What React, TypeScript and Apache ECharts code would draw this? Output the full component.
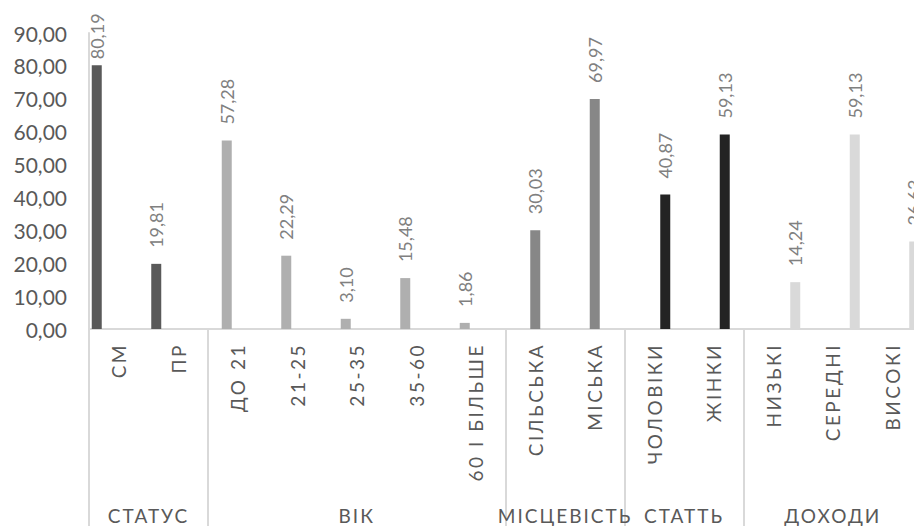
import React, { useEffect, useRef } from "react";
import * as echarts from "echarts";

const categories = ["СМ", "ПР", "ДО 21", "21-25", "25-35", "35-60", "60 І БІЛЬШЕ", "СІЛЬСЬКА", "МІСЬКА", "ЧОЛОВІКИ", "ЖІНКИ", "НИЗЬКІ", "СЕРЕДНІ", "ВИСОКІ"];
const groupNames = ["СТАТУС", "ВІК", "МІСЦЕВІСТЬ", "СТАТТЬ", "ДОХОДИ"];
const groupSizes = [2, 5, 2, 2, 3];
const statusValues = [80.19, 19.81];
const ageValues = [57.28, 22.29, 3.1, 15.48, 1.86];
const localityValues = [30.03, 69.97];
const sexValues = [40.87, 59.13];
const incomeValues = [14.24, 59.13, 26.63];
const groupValues = [statusValues, ageValues, localityValues, sexValues, incomeValues];
const groupColors = ["#595959", "#afafaf", "#878787", "#232323", "#d9d9d9"];
const yTicks = [0, 10, 20, 30, 40, 50, 60, 70, 80, 90];

const fmt = (v: number) => v.toFixed(2).replace(".", ",");
const FONT = "Lato";

export default function App() {
  const ref = useRef<HTMLDivElement>(null);
  useEffect(() => {
    if (!ref.current) return;
    const el = ref.current;
    const chart = echarts.init(el, null, { renderer: "svg" });

    const starts: number[] = [];
    let acc = 0;
    groupSizes.forEach((s) => { starts.push(acc); acc += s; });
    const boundaries = [...starts, acc];
    const centers = starts.map((s, i) => s + groupSizes[i] / 2);

    const series = groupValues.map((vals, gi) => {
      const data: any[] = categories.map(() => null);
      vals.forEach((v, j) => {
        const item: any = { value: v };
        if (v > 75) item.label = { distance: 6 };
        data[starts[gi] + j] = item;
      });
      return {
        type: "bar",
        name: groupNames[gi],
        data,
        barWidth: 10,
        barGap: "10%",
        xAxisIndex: 0,
        yAxisIndex: 0,
        itemStyle: { color: groupColors[gi] },
        label: {
          show: true,
          position: "top",
          rotate: 90,
          align: "left",
          verticalAlign: "middle",
          distance: 16,
          color: "#808080",
          fontFamily: FONT,
          fontSize: 18,
          formatter: (p: any) => fmt(p.value),
        },
      };
    });

    chart.setOption({
      animation: false,
      grid: { left: 89, top: 33, bottom: 197, right: 0, containLabel: false },
      xAxis: [
        {
          type: "category",
          data: categories,
          position: "bottom",
          axisLine: { show: true, lineStyle: { color: "#d9d9d9", width: 2 } },
          axisTick: { show: false },
          axisLabel: {
            rotate: 90,
            margin: 14,
            color: "#595959",
            fontFamily: FONT,
            fontSize: 19,
            interval: 0,
          },
          splitLine: { show: false },
        },
        {
          type: "value",
          min: 0,
          max: acc,
          position: "bottom",
          axisLine: { show: false },
          splitLine: { show: false },
          axisTick: {
            show: true,
            customValues: boundaries,
            length: 197,
            lineStyle: { color: "#d9d9d9", width: 2 },
          },
          axisLabel: {
            show: true,
            customValues: centers,
            margin: 177,
            color: "#595959",
            fontFamily: FONT,
            fontSize: 19,
            formatter: (v: number) => {
              const i = centers.findIndex((c) => Math.abs(c - v) < 1e-6);
              return i >= 0 ? groupNames[i] : "";
            },
          },
        },
      ],
      yAxis: {
        type: "value",
        min: yTicks[0],
        max: yTicks[yTicks.length - 1],
        interval: yTicks[1] - yTicks[0],
        axisLine: { show: true, lineStyle: { color: "#d9d9d9", width: 2 } },
        axisTick: { show: false },
        splitLine: { show: false },
        axisLabel: {
          margin: 22,
          color: "#595959",
          fontFamily: FONT,
          fontSize: 21,
          formatter: (v: number) => fmt(v),
        },
      },
      series,
    });

    const catSet = new Set(categories);
    const groupSet = new Set(groupNames);
    const applySpacing = () => {
      el.querySelectorAll("text").forEach((t) => {
        const s = (t.textContent || "").trim();
        if (catSet.has(s)) t.setAttribute("letter-spacing", "2.5");
        else if (groupSet.has(s)) t.setAttribute("letter-spacing", "2");
      });
    };
    applySpacing();
    chart.on("finished", applySpacing);
    return () => chart.dispose();
  }, []);
  return (
    <div style={{ position: "fixed", left: 0, top: 0, width: 914, height: 526, overflow: "hidden", background: "#fff" }}>
      <div ref={ref} style={{ width: 922, height: 526 }} />
    </div>
  );
}
